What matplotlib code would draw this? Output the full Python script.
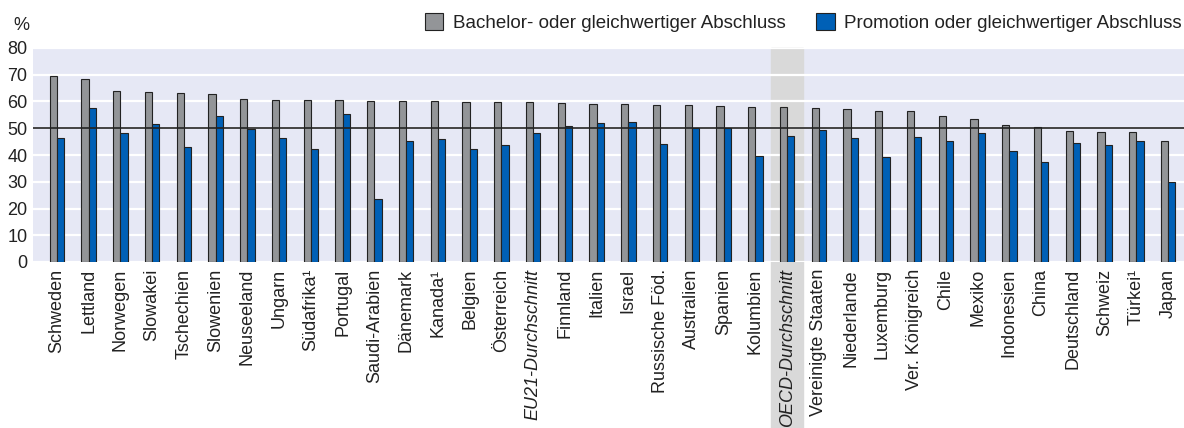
import matplotlib
matplotlib.use("Agg")
import matplotlib.pyplot as plt
import numpy as np

countries = ["Schweden", "Lettland", "Norwegen", "Slowakei", "Tschechien", "Slowenien",
             "Neuseeland", "Ungarn", "Südafrika¹", "Portugal", "Saudi-Arabien", "Dänemark",
             "Kanada¹", "Belgien", "Österreich", "EU21-Durchschnitt", "Finnland", "Italien",
             "Israel", "Russische Föd.", "Australien", "Spanien", "Kolumbien",
             "OECD-Durchschnitt", "Vereinigte Staaten", "Niederlande", "Luxemburg",
             "Ver. Königreich", "Chile", "Mexiko", "Indonesien", "China", "Deutschland",
             "Schweiz", "Türkei¹", "Japan"]
bachelor = [69.4, 68.5, 63.9, 63.7, 63.3, 62.8, 61.0, 60.7, 60.7, 60.6, 60.3, 60.1,
            60.1, 59.9, 59.8, 59.7, 59.3, 59.1, 58.9, 58.7, 58.7, 58.4, 58.1,
            58.1, 57.6, 57.2, 56.4, 56.4, 54.5, 53.4, 51.3, 50.4, 49.0, 48.7, 48.7, 45.2]
promotion = [46.2, 57.7, 48.2, 51.6, 43.1, 54.7, 49.9, 46.5, 42.3, 55.2, 23.6, 45.2,
             45.8, 42.4, 43.8, 48.1, 51.0, 52.1, 52.3, 44.0, 50.0, 50.0, 39.8,
             47.1, 49.4, 46.3, 39.2, 46.7, 45.2, 48.2, 41.4, 37.4, 44.3, 43.7, 45.2, 30.0]
yticks = [0, 10, 20, 30, 40, 50, 60, 70, 80]
legend_labels = ["Bachelor- oder gleichwertiger Abschluss", "Promotion oder gleichwertiger Abschluss"]
italic_labels = ["EU21-Durchschnitt", "OECD-Durchschnitt"]
highlight = "OECD-Durchschnitt"

plt.rcParams['font.family'] = ['Liberation Sans', 'DejaVu Sans']

W, H = 1184, 428
fig = plt.figure(figsize=(W / 100, H / 100), dpi=100)
ax = fig.add_axes([33 / W, 1 - 262 / H, (W - 33) / W, (262 - 48) / H])

x = np.arange(len(countries))
bw = 0.23
ax.set_facecolor("#e6e8f5")
ax.bar(x - bw / 2, bachelor, width=bw, color="#939598", edgecolor="#222222", linewidth=0.8, zorder=3,
       label=legend_labels[0])
ax.bar(x + bw / 2, promotion, width=bw, color="#0060b6", edgecolor="#222222", linewidth=0.8, zorder=3,
       label=legend_labels[1])

hi = countries.index(highlight)
ax.axvspan(hi - 0.5, hi + 0.5, ymin=-0.8, ymax=1, color="#d9d9d9", zorder=1, clip_on=False)

ax.set_ylim(0, 80)
ax.set_xlim(-0.75, 35.5)
ax.set_yticks(yticks)
ax.yaxis.grid(True, color="white", linewidth=1.6, zorder=2)
ax.set_axisbelow(False)
ax.axhline(50, color="#222222", linewidth=1.2, zorder=4)
for s in ax.spines.values():
    s.set_visible(False)
ax.tick_params(axis="y", length=0, pad=4, labelsize=13, labelcolor="#222222")
ax.tick_params(axis="x", length=0, pad=5, labelsize=13, labelcolor="#222222")
ax.set_xticks(x)
ax.set_xticklabels(countries, rotation=90)
for lab in ax.get_xticklabels():
    if lab.get_text() in italic_labels:
        lab.set_style("italic")

fig.text(13 / W, 1 - 25 / H, "%", fontsize=13, color="#222222", va="center", ha="left")

leg = fig.legend(loc="upper right", bbox_to_anchor=(1.0, 1 - 11 / H), ncol=2, frameon=False,
                 fontsize=13.5, handlelength=1.0, handleheight=1.0, columnspacing=1.65,
                 handletextpad=0.5, borderaxespad=0.0, borderpad=0.1)
for t in leg.get_texts():
    t.set_color("#222222")

fig.savefig("out.png", dpi=100)
